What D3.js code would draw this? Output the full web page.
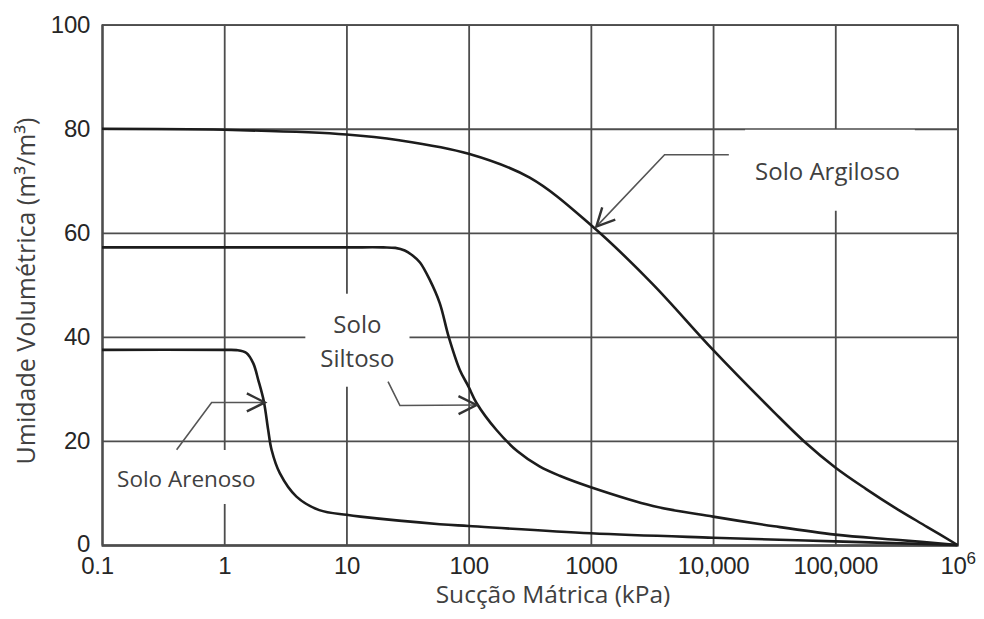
<!DOCTYPE html>
<html>
<head>
<meta charset="utf-8">
<script src="https://cdn.jsdelivr.net/npm/d3@7"></script>
<style>
  html, body { margin: 0; padding: 0; background: #fff; }
  svg { display: block; }
</style>
</head>
<body>
<svg id="chart" width="984" height="619"></svg>
<script>
// ---------- DATA ----------
const xTicks = [0.1, 1, 10, 100, 1000, 10000, 100000, 1e6];
const xTickLabels = ["0.1", "1", "10", "100", "1000", "10,000", "100,000", "10^6"];
const yTicks = [0, 20, 40, 60, 80, 100];
const yTickLabels = ["0", "20", "40", "60", "80", "100"];

const argilosoSuction = [0.1, 1, 10, 27, 100, 316, 1000, 3162, 10000, 31623, 56234, 100000, 177828, 316228, 562341, 1e6];
const argilosoMoisture = [80, 79.8, 78.9, 77.8, 75.2, 70.6, 61.5, 50.3, 37.5, 25.5, 19.8, 14.9, 10.8, 7.0, 3.5, 0];

const siltosoSuction = [0.1, 1, 10, 20, 25.1, 30, 35, 40, 48, 58, 68.7, 84.5, 100, 116, 169, 251, 380, 556, 1000, 3220, 10000, 31623, 100000, 316228, 1e6];
const siltosoMoisture = [57.2, 57.2, 57.2, 57.2, 57.1, 56.6, 55.6, 54.3, 51, 46.5, 40, 33.7, 30.4, 27.3, 22.1, 18.0, 15.1, 13.3, 11.1, 7.5, 5.45, 3.6, 2.0, 1.0, 0];

const arenosoSuction = [0.1, 1, 1.26, 1.52, 1.73, 1.9, 2.11, 2.29, 2.44, 2.85, 3.9, 6.0, 10, 13, 58, 100, 1000, 10000, 100000, 1e6];
const arenosoMoisture = [37.5, 37.5, 37.45, 36.9, 34.9, 31.7, 27.6, 22.1, 18.3, 13.8, 9.3, 6.7, 5.8, 5.45, 4.0, 3.65, 2.25, 1.4, 0.7, 0];

// annotation labels (data coordinates: suction, moisture at text baseline)
const labelNames = ["Solo Argiloso", "Solo\nSiltoso", "Solo Arenoso"];
const labelSuction = [86300, 12.3, 0.49];
const labelMoisture = [70.2, 40.8, 11.15];
// arrows: polyline points [suction, moisture]
const arrowArgiloso = [[13460, 75], [4010, 75], [1109, 61.2]];
const arrowSiltoso = [[21.9, 31.4], [27.4, 26.8], [116, 26.9]];
const arrowArenoso = [[0.408, 18.3], [0.789, 27.4], [2.15, 27.4]];

const xTitle = "Sucção Mátrica (kPa)";
const yTitle = "Umidade Volumétrica (m³/m³)";

// ---------- LAYOUT ----------
const svg = d3.select("#chart");
const L = 102, R = 957.5, T = 24.7, B = 545;
const x = d3.scaleLog().domain([0.1, 1e6]).range([L, R]);
const y = d3.scaleLinear().domain([0, 100]).range([B, T]);

const gridColor = "#4d4d4d";
const tickFont = "'Liberation Sans', Arial, sans-serif";
const textFont = "'Open Sans', 'Noto Sans', sans-serif";

// X axis + vertical grid
const gx = svg.append("g").attr("transform", `translate(0,${B})`)
  .call(d3.axisBottom(x).tickValues(xTicks).tickSize(-(B - T)).tickPadding(11.5)
    .tickFormat((d, i) => xTickLabels[i]));
gx.select(".domain").attr("stroke", gridColor).attr("stroke-width", 1.8);
gx.selectAll(".tick line").attr("stroke", gridColor).attr("stroke-width", 1.8);
gx.selectAll(".tick text").attr("font-family", tickFont).attr("font-size", 24)
  .attr("fill", "#262626").attr("letter-spacing", -0.3);
gx.selectAll(".tick text").filter((d, i) => xTickLabels[i] === "0.1").attr("dx", -5);
gx.selectAll(".tick text").filter((d, i) => xTickLabels[i] === "10^6").each(function () {
  const t = d3.select(this);
  t.text(null);
  t.append("tspan").text("10");
  t.append("tspan").attr("font-size", 17).attr("dy", "-0.55em").text("6");
});

// Y axis + horizontal grid
const gy = svg.append("g").attr("transform", `translate(${L},0)`)
  .call(d3.axisLeft(y).tickValues(yTicks).tickSize(-(R - L)).tickPadding(12)
    .tickFormat((d, i) => yTickLabels[i]));
gy.select(".domain").attr("stroke", gridColor).attr("stroke-width", 1.8);
gy.selectAll(".tick line").attr("stroke", gridColor).attr("stroke-width", 1.8);
gy.selectAll(".tick text").attr("font-family", tickFont).attr("font-size", 24)
  .attr("fill", "#262626").attr("letter-spacing", -0.3);
gy.selectAll(".tick text").filter((d, i) => yTickLabels[i] === "0").attr("dy", "0.26em");

// ---------- LABEL BACKGROUNDS + TEXT ----------
const labelLayer = svg.append("g");
const labelSizes = [24, 24, 22.5];
const bgPads = [[10, 15, 24, 24], [15, 15, 13, 13], [8, 12, 13, 10]]; // left,right,top,bottom
const textNodes = labelNames.map((name, i) => {
  const lines = name.split("\n");
  const t = labelLayer.append("text")
    .attr("font-family", textFont).attr("font-size", labelSizes[i]).attr("fill", "#404040")
    .attr("text-anchor", "middle");
  lines.forEach((ln, j) => {
    t.append("tspan").attr("x", x(labelSuction[i]))
      .attr("y", y(labelMoisture[i]) + j * 34).text(ln);
  });
  return t;
});
textNodes.forEach((t, i) => {
  const bb = t.node().getBBox();
  const p = bgPads[i];
  labelLayer.insert("rect", "text")
    .attr("x", bb.x - p[0]).attr("y", bb.y - p[2])
    .attr("width", bb.width + p[0] + p[1]).attr("height", bb.height + p[2] + p[3])
    .attr("fill", "#fff");
});

// ---------- CURVES ----------
const line = d3.line().x(d => x(d[0])).y(d => y(d[1])).curve(d3.curveCatmullRom.alpha(0.5));
const series = [
  d3.zip(argilosoSuction, argilosoMoisture),
  d3.zip(siltosoSuction, siltosoMoisture),
  d3.zip(arenosoSuction, arenosoMoisture)
];
svg.append("g").selectAll("path").data(series).join("path")
  .attr("d", line).attr("fill", "none").attr("stroke", "#1c1c1c")
  .attr("stroke-width", 2.6).attr("stroke-linejoin", "round");

// ---------- ARROWS ----------
svg.append("defs").append("marker")
  .attr("id", "arrowhead").attr("markerUnits", "userSpaceOnUse")
  .attr("viewBox", "-22 -12 26 24").attr("refX", 0).attr("refY", 0)
  .attr("markerWidth", 26).attr("markerHeight", 24).attr("orient", "auto")
  .append("path").attr("d", "M-18,-9 L0,0 L-18,9")
  .attr("fill", "none").attr("stroke", "#333").attr("stroke-width", 2.4)
  .attr("stroke-linejoin", "miter");
const arrowLine = d3.line().x(d => x(d[0])).y(d => y(d[1]));
svg.append("g").selectAll("path").data([arrowArgiloso, arrowSiltoso, arrowArenoso]).join("path")
  .attr("d", arrowLine).attr("fill", "none").attr("stroke", "#555")
  .attr("stroke-width", 1.6).attr("marker-end", "url(#arrowhead)");

// ---------- AXIS TITLES ----------
svg.append("text").attr("x", 553).attr("y", 603)
  .attr("text-anchor", "middle").attr("font-family", textFont).attr("font-size", 24.5)
  .attr("fill", "#404040").text(xTitle);
svg.append("text").attr("transform", `translate(35,291) rotate(-90)`)
  .attr("text-anchor", "middle").attr("font-family", textFont).attr("font-size", 25)
  .attr("fill", "#404040").text(yTitle);
</script>
</body>
</html>
